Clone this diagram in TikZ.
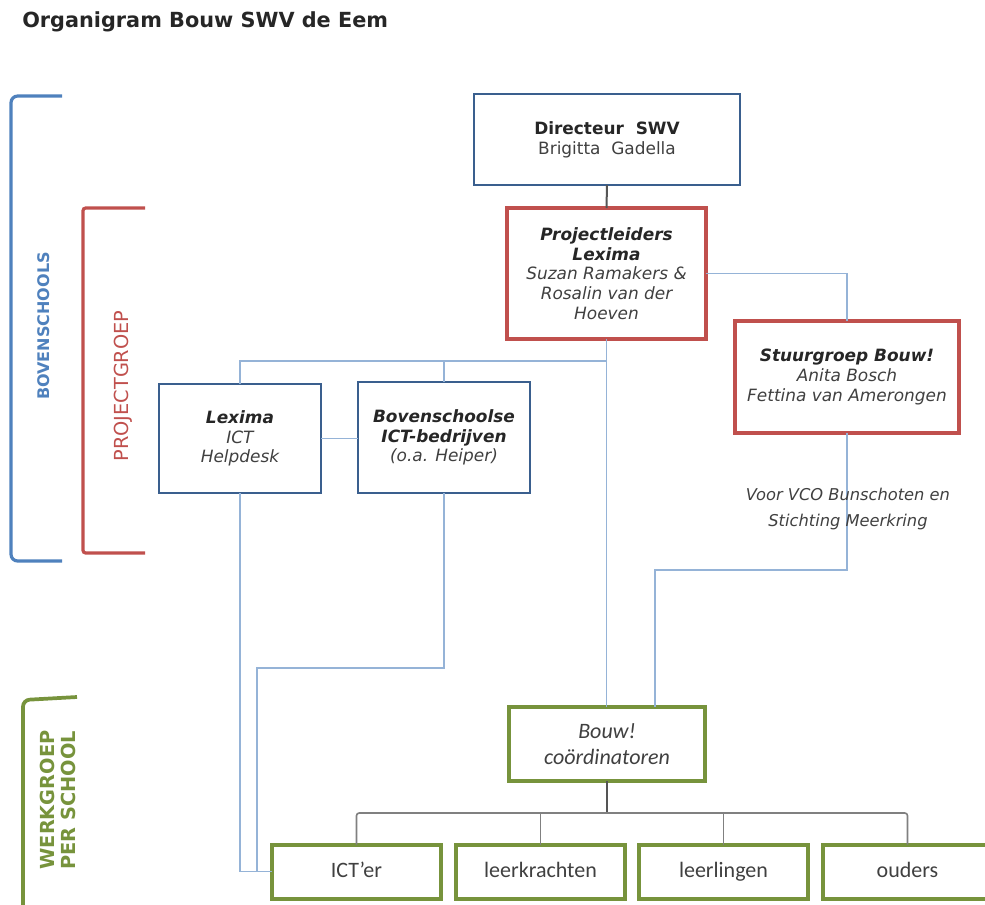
\documentclass[tikz,border=0pt]{standalone}
\usepackage{fontspec}
\setmainfont{DejaVu Sans}
\newfontfamily\carl{Carlito}
\definecolor{boxblue}{HTML}{3A5F8E}
\definecolor{boxred}{HTML}{C0504D}
\definecolor{boxgreen}{HTML}{77933C}
\definecolor{lineblue}{HTML}{95B3D7}
\definecolor{brblue}{HTML}{4F81BD}
\definecolor{txt}{HTML}{262626}
\definecolor{txtl}{HTML}{404040}
\definecolor{gline}{HTML}{808080}
\definecolor{dline}{HTML}{555555}
\newcommand\lbi{\color{txt}\bfseries\itshape}
\newcommand\lii{\color{txtl}\mdseries\itshape}
\newcommand\lbn{\color{txt}\bfseries\upshape}
\newcommand\lnn{\color{txtl}\mdseries\upshape}
\begin{document}
\begin{tikzpicture}[x=0.75pt,y=-0.75pt,
  sz/.style 2 args={minimum width=#1*0.75pt, minimum height=#2*0.75pt},
  box/.style={draw, rectangle, inner sep=1pt, outer sep=0pt, align=center, fill=white, text=txtl,
    font=\fontsize{12.7}{14.8}\selectfont},
  bluebox/.style={box, draw=boxblue, line width=2.2pt},
  redbox/.style={box, draw=boxred, line width=3pt},
  greenbox/.style={box, draw=boxgreen, line width=3pt, font=\carl\fontsize{16.5}{19}\selectfont},
  leafbox/.style={greenbox, text height=11.5pt, text depth=3pt},
  conn/.style={draw=lineblue, line width=1.1pt},
  gconn/.style={draw=gline, line width=1.2pt, rounded corners=2pt},
  bracket/.style={line width=2.4pt, rounded corners=5pt},
  sidelabel/.style={rotate=90, anchor=center}
]
\useasboundingbox (0,0) rectangle (985,904);

% title
\node[anchor=base west, inner sep=0pt, text=txt, font=\bfseries\fontsize{15.6}{18}\selectfont] (title) at (22,27) {Organigram Bouw SWV de Eem};

% brackets
\draw[bracket, draw=brblue] (62,96) -- (11,96) -- (11,561) -- (62,561);
\draw[bracket, draw=boxred, rounded corners=2pt] (145,208) -- (83,208) -- (83,553) -- (145,553);
\draw[bracket, draw=boxgreen, line width=2.8pt] (77,697) -- (23,700) -- (23,912);

\node[sidelabel, text=brblue, font=\bfseries\fontsize{12}{14}\selectfont] (lbov) at (44,326) {BOVENSCHOOLS};
\node[sidelabel, text=boxred, font=\fontsize{14.5}{16}\selectfont] (lproj) at (123,386) {PROJECTGROEP};
\node[rotate=90, anchor=center, text=boxgreen, align=left, inner sep=0pt,
  font=\bfseries\fontsize{14.5}{15.8}\selectfont] (lwerk) at (58,800) {WERKGROEP\\PER SCHOOL};

% boxes
\node[bluebox, sz={266}{91}] (dir) at (607,139.5)
  {\lbn Directeur\ \ SWV\\\lnn Brigitta\ \ Gadella};
\node[redbox, sz={199}{131}] (proj) at (606.5,273.5)
  {\lbi Projectleiders\\\lbi Lexima\\\lii Suzan Ramakers \&\\\lii Rosalin van der\\\lii Hoeven};
\node[redbox, sz={224}{112}] (stuur) at (847,377)
  {\lbi Stuurgroep Bouw!\\\lii Anita Bosch\\\lii Fettina van Amerongen};
\node[bluebox, sz={162}{109}] (lex) at (240,438.5)
  {\lbi Lexima\\\lii ICT\\\lii Helpdesk};
\node[bluebox, line width=1.8pt, sz={172}{111}] (bov) at (444,437.5)
  {\lbi Bovenschoolse\\\lbi ICT-bedrijven\\\lii (o.a. Heiper)};
\node[greenbox, sz={196}{74}] (bouw) at (607,744)
  {\lii Bouw!\\\lii coördinatoren};
\node[leafbox, sz={169}{54}] (ict) at (356.5,871.5) {ICT’er};
\node[leafbox, sz={169}{54}] (leer) at (540.5,871.5) {leerkrachten};
\node[leafbox, sz={169}{54}] (leerl) at (723.5,871.5) {leerlingen};
\node[leafbox, sz={169}{54}] (ouders) at (907.5,871.5) {ouders};

% helper coordinates
\coordinate (j1) at (606.5,361);
\coordinate (k1) at (655,570);
\coordinate (b1) at (257,668);
\coordinate (g) at (607,813);

% connectors
\draw[draw=dline, line width=1.5pt] (dir.south) -- (proj.north);
\draw[conn] (proj.south) -- (proj.south |- bouw.north);
\draw[conn] (lex.north) |- (j1);
\draw[conn] (bov.north) -- (bov.north |- j1);
\draw[conn] (proj.east) -| (stuur.north);
\draw[conn] (stuur.south) |- (k1) -- (k1 |- bouw.north);
\draw[conn] (lex.east) -- (lex.east -| bov.west);
\draw[conn] (lex.south) |- (ict.west);
\draw[conn] (bov.south) |- (b1) |- (ict.west);

\draw[draw=dline, line width=2pt] (bouw.south) -- (g);
\draw[gconn] (ict.north) |- (g) -| (ouders.north);
\draw[gconn] (leer.north) -- (leer.north |- g);
\draw[gconn] (leerl.north) -- (leerl.north |- g);

% note
\node[align=center, text=txtl, font=\itshape\fontsize{12.2}{19}\selectfont] (note) at (848,509)
  {Voor VCO Bunschoten en\\Stichting Meerkring};
\end{tikzpicture}
\end{document}
